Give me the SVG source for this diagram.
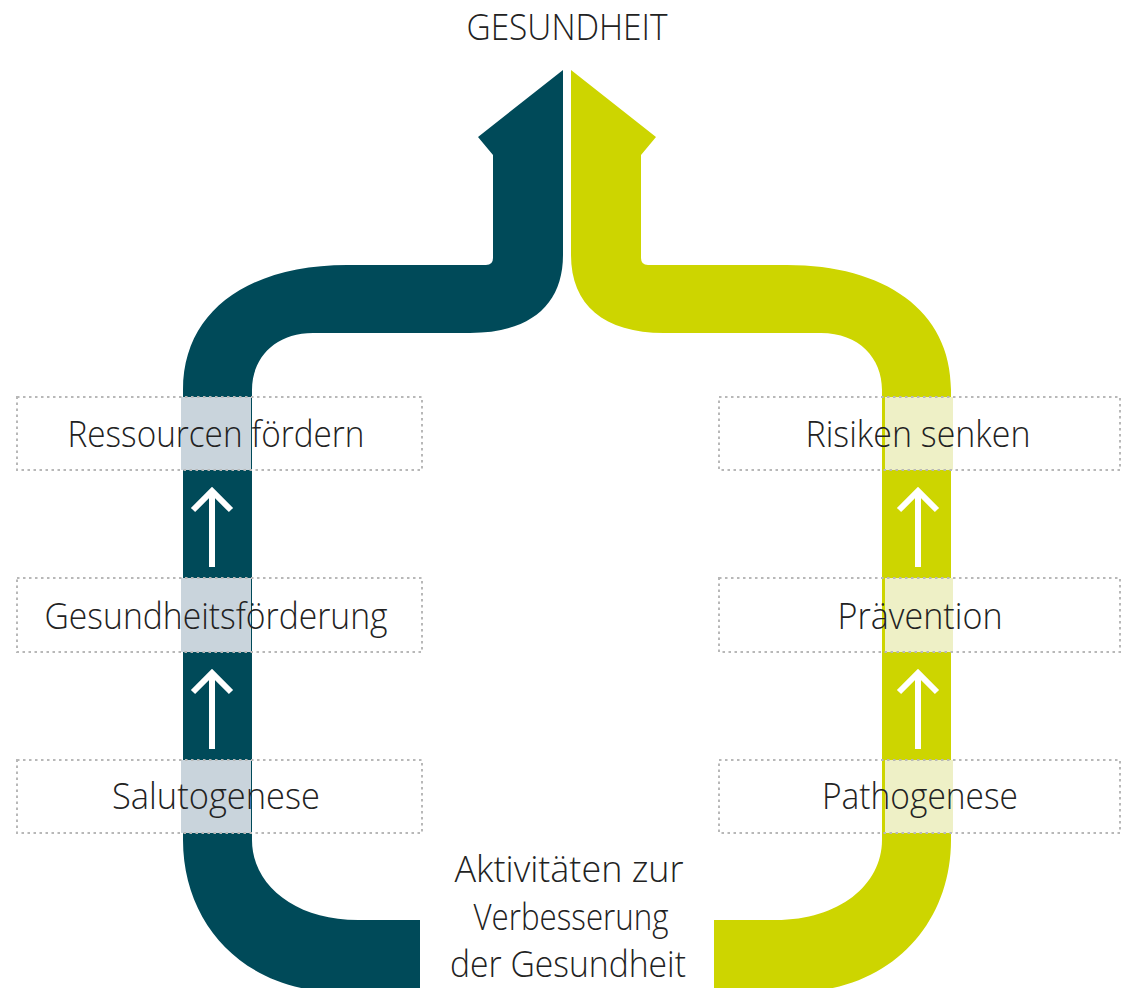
<svg xmlns="http://www.w3.org/2000/svg" xmlns:xlink="http://www.w3.org/1999/xlink" width="1122" height="988" viewBox="0 0 1122 988">
  <style>
    .lbl { font-family: "Open Sans", "Noto Sans", "Liberation Sans", sans-serif; font-size: 37px; font-weight: 300; fill: #222222; text-anchor: middle; }
    .box { fill: none; stroke: #b8b8b8; stroke-width: 2; stroke-dasharray: 2.5 3.5; }
    .hlD { fill: #c9d4dc; }
    .hlL { fill: #eef0c6; }
    .up { fill: none; stroke: #ffffff; stroke-width: 6; stroke-linejoin: miter; }
  </style>
  <defs>
    <path id="bigArrow" d="M 563,70 L 563,255 C 563,305 530,333 470,333 L 313,333 C 275,333 252,358 252,390 L 252,840 C 252,885 295,920 358,920 L 420,920 L 420,992 L 340,992 C 245,992 183,925 183,840 L 183,390 C 183,310 250,265 347,265 L 486,265 Q 493,265 493,258 L 493,155 L 478,137 Z"/>
    <path id="upArrow" d="M 193,510 L 212,491 L 231,510 M 212,493 L 212,567"/>
  </defs>

  <g id="connectors">
    <use xlink:href="#bigArrow" href="#bigArrow" fill="#004a59"/>
    <use xlink:href="#bigArrow" href="#bigArrow" fill="#cdd500" transform="translate(1134,0) scale(-1,1)"/>
    <use xlink:href="#upArrow" href="#upArrow" class="up"/>
    <use xlink:href="#upArrow" href="#upArrow" class="up" transform="translate(0,182)"/>
    <use xlink:href="#upArrow" href="#upArrow" class="up" transform="translate(706,0)"/>
    <use xlink:href="#upArrow" href="#upArrow" class="up" transform="translate(706,182)"/>
  </g>

  <g id="gesundheit">
    <text class="lbl" x="567" y="40" textLength="201" lengthAdjust="spacingAndGlyphs">GESUNDHEIT</text>
  </g>

  <g id="ressourcen">
    <rect class="hlD" x="181" y="397" width="70" height="73"/>
    <rect class="box" x="17" y="397" width="405" height="73"/>
    <text class="lbl" x="216" y="447" textLength="297" lengthAdjust="spacingAndGlyphs">Ressourcen fördern</text>
  </g>
  <g id="gesundheitsfoerderung">
    <rect class="hlD" x="181" y="578" width="70" height="74"/>
    <rect class="box" x="17" y="578" width="405" height="74"/>
    <text class="lbl" x="216" y="629" textLength="343" lengthAdjust="spacingAndGlyphs">Gesundheitsförderung</text>
  </g>
  <g id="salutogenese">
    <rect class="hlD" x="181" y="760" width="70" height="73"/>
    <rect class="box" x="17" y="760" width="405" height="73"/>
    <text class="lbl" x="216" y="809" textLength="208" lengthAdjust="spacingAndGlyphs">Salutogenese</text>
  </g>

  <g id="risiken">
    <rect class="hlL" x="885" y="397" width="68" height="73"/>
    <rect class="box" x="719" y="397" width="401" height="73"/>
    <text class="lbl" x="918" y="447" textLength="225" lengthAdjust="spacingAndGlyphs">Risiken senken</text>
  </g>
  <g id="praevention">
    <rect class="hlL" x="885" y="578" width="68" height="74"/>
    <rect class="box" x="719" y="578" width="401" height="74"/>
    <text class="lbl" x="920" y="629" textLength="165" lengthAdjust="spacingAndGlyphs">Prävention</text>
  </g>
  <g id="pathogenese">
    <rect class="hlL" x="885" y="760" width="68" height="73"/>
    <rect class="box" x="719" y="760" width="401" height="73"/>
    <text class="lbl" x="920" y="809" textLength="196" lengthAdjust="spacingAndGlyphs">Pathogenese</text>
  </g>

  <g id="aktivitaeten">
    <text class="lbl" x="569" y="882" textLength="229" lengthAdjust="spacingAndGlyphs">Aktivitäten zur</text>
    <text class="lbl" x="571" y="930" textLength="195" lengthAdjust="spacingAndGlyphs">Verbesserung</text>
    <text class="lbl" x="568" y="977" textLength="236" lengthAdjust="spacingAndGlyphs">der Gesundheit</text>
  </g>
</svg>
